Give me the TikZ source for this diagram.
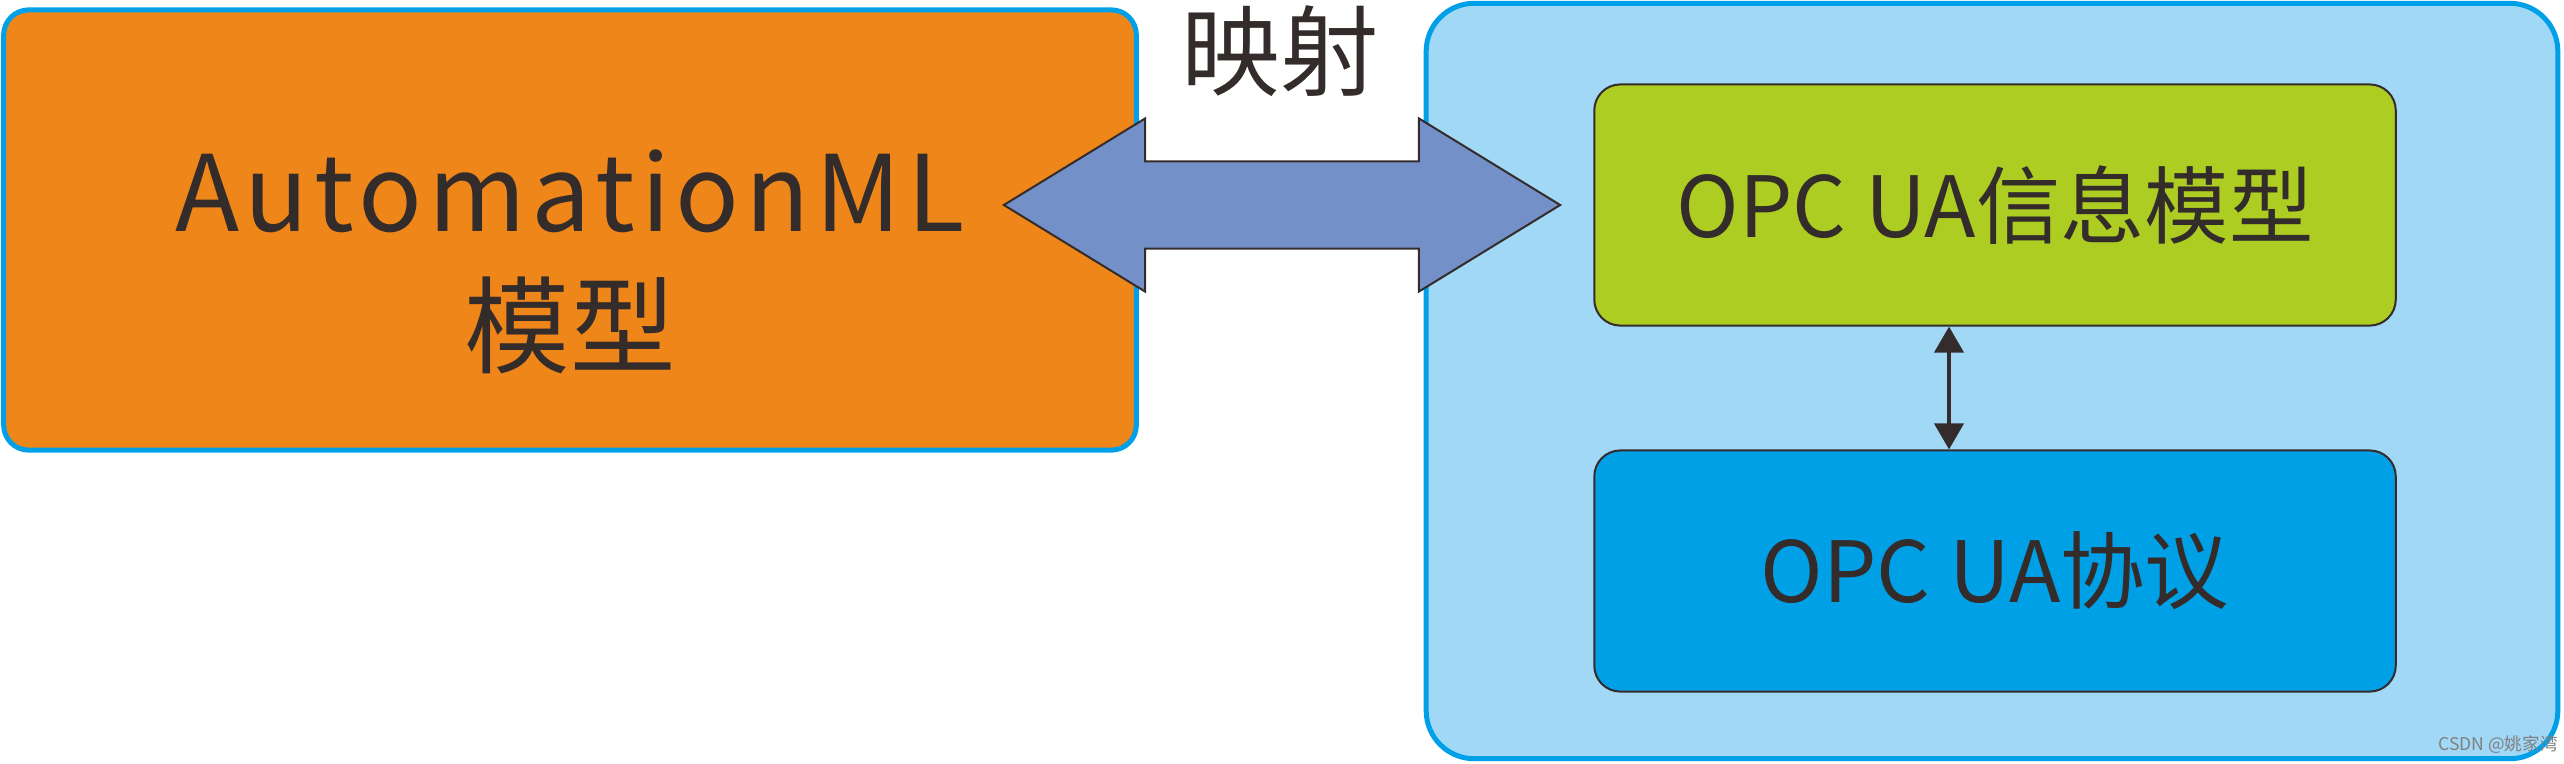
\documentclass[tikz,border=0pt]{standalone}
\usepackage{fontspec}
\setmainfont{Noto Sans CJK SC}
\usepackage{tikz}
\usetikzlibrary{shapes.arrows,arrows.meta}
\definecolor{amlorange}{HTML}{EF861A}
\definecolor{frameblue}{HTML}{00A0E9}
\definecolor{paleblue}{HTML}{A0D8F5}
\definecolor{infogreen}{HTML}{ADCD22}
\definecolor{protoblue}{HTML}{00A0E6}
\definecolor{mapblue}{HTML}{7490C8}
\definecolor{ink}{HTML}{332C2B}
\tikzstyle{outerbox} = [draw=frameblue, line width=0.05cm, inner sep=0pt]
\tikzstyle{innerbox} = [draw=ink, line width=0.02cm, rounded corners=0.26cm, inner sep=0pt,
  minimum width=8.01cm, minimum height=2.41cm, text=ink, font=\fontsize{24}{28}\selectfont]
\tikzstyle{line} = [draw=ink, line width=0.04cm, {Triangle[length=0.26cm,width=0.29cm]}-{Triangle[length=0.26cm,width=0.29cm]}]

\begin{document}
\begin{tikzpicture}[x=0.01cm,y=-0.01cm]
      \useasboundingbox (0,0) rectangle (2564,763);

      % left: AutomationML model
      \node[outerbox, fill=amlorange, rounded corners=0.25cm, minimum width=11.32cm, minimum height=4.40cm] (aml) at (570,230) {};
      \node[text=ink, align=center, font=\fontsize{30}{38}\selectfont] (amltext) at (570,262) {{\addfontfeature{LetterSpace=5.5}AutomationML}\\模型};

      % right: OPC UA side
      \node[outerbox, fill=paleblue, rounded corners=0.48cm, minimum width=11.31cm, minimum height=7.55cm] (opc) at (1992,381) {};
      \node[innerbox, fill=infogreen] (info) at (1995,205) {OPC UA信息模型};
      \node[innerbox, fill=protoblue] (proto) at (1995,571) {OPC UA协议};

      % mapping arrow
      \node[double arrow, draw=ink, fill=mapblue, line width=0.02cm, inner xsep=0pt, inner ysep=0.425cm,
            minimum height=5.56cm, double arrow head extend=0.43cm, double arrow tip angle=63] (map) at (1282,205) {};
      \node[text=ink, font=\fontsize{28}{30}\selectfont] (maplabel) at (1280,51) {映射};

      % link between the two OPC UA boxes
      \coordinate (linkx) at (1949,0);
      \draw[line] (info.south -| linkx) -- (proto.north -| linkx);

      \node[text=gray, font=\fontsize{5}{6}\selectfont] (mark) at (2498,745) {CSDN @姚家湾};
    \end{tikzpicture}
\end{document}
